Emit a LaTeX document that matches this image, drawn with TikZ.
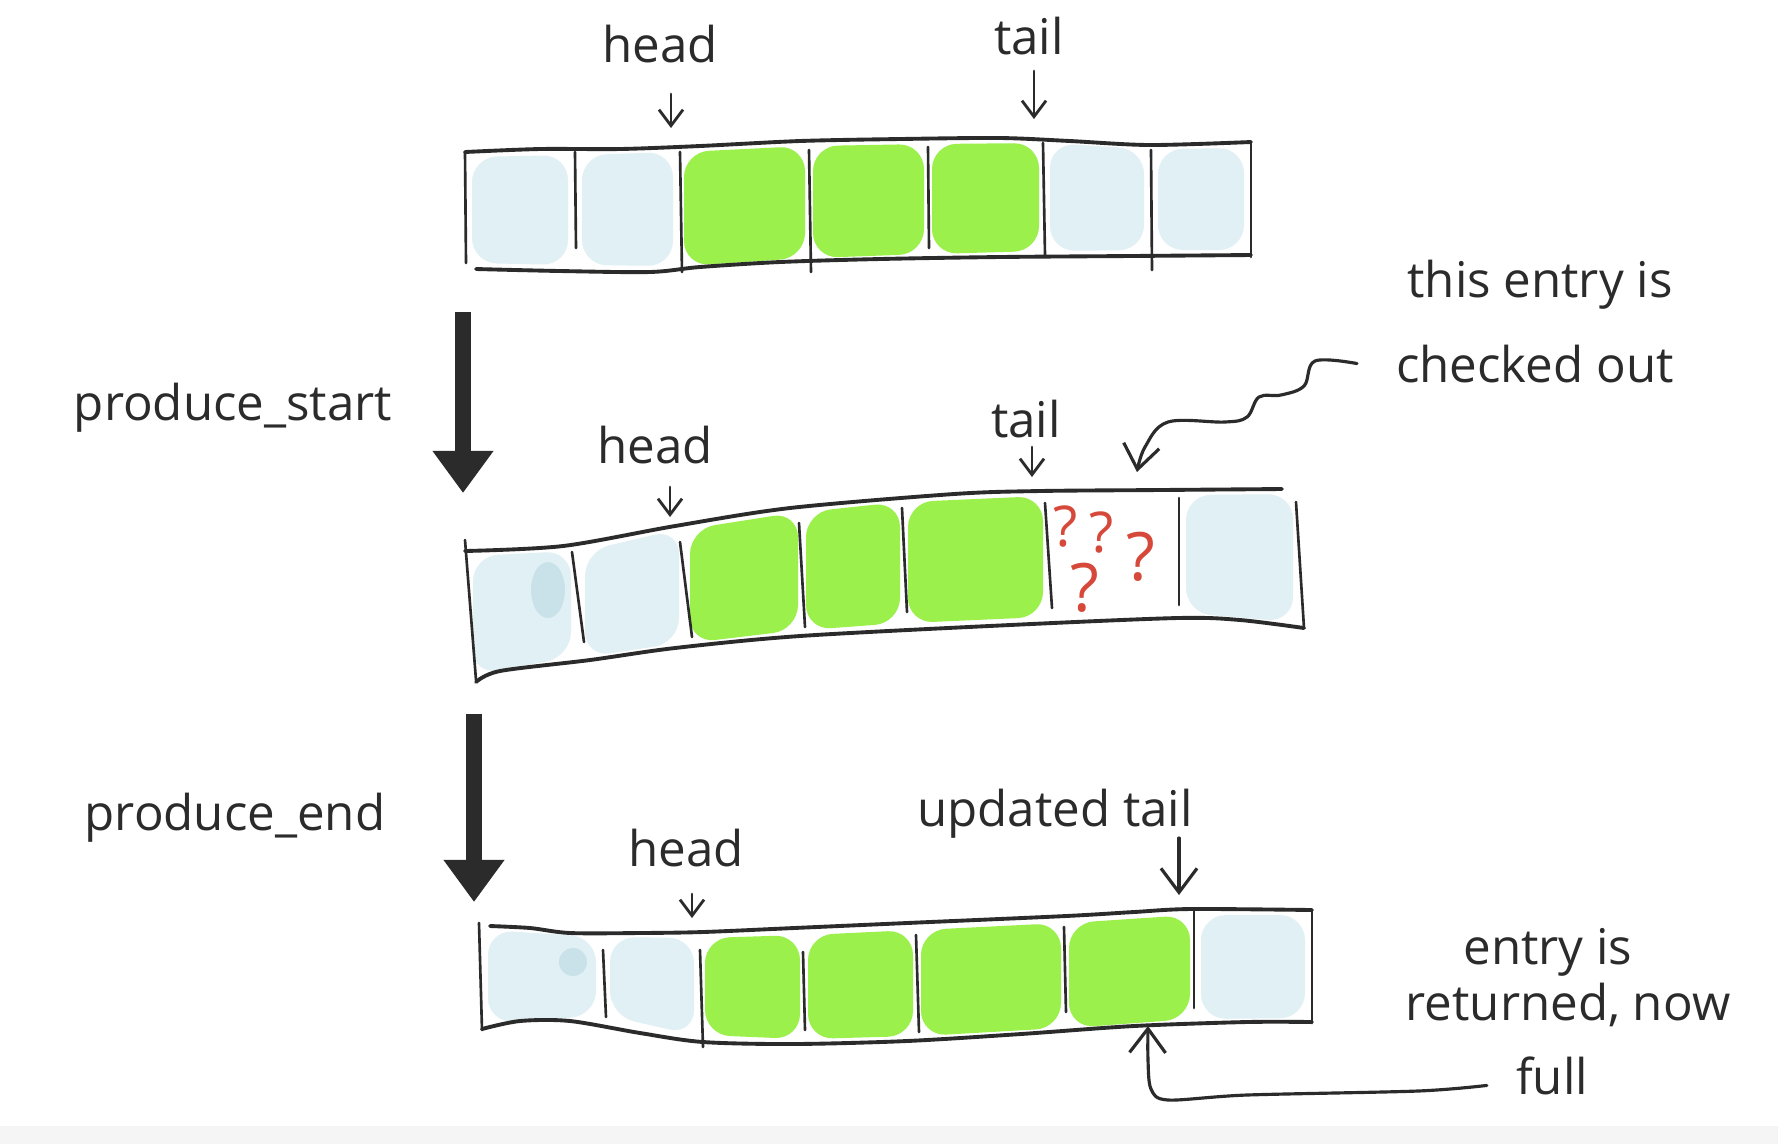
\documentclass[tikz,border=0pt]{standalone}
\usepackage{fontspec}
\setmainfont{Open Sans}
\usetikzlibrary{arrows.meta}

\definecolor{slotblue}{HTML}{E1F0F4}
\definecolor{slotdark}{HTML}{C9E2E9}
\definecolor{slotgreen}{HTML}{9CF04C}
\definecolor{inkgray}{HTML}{2B2B2B}
\definecolor{qred}{HTML}{D6483A}

\tikzset{
    ink/.style={draw=inkgray, line width=1.1pt, line cap=round, line join=round},
    sep/.style={draw=inkgray, line width=0.75pt, line cap=round},
    ptr/.style={draw=inkgray, line width=0.8pt, line cap=round, -{Straight Barb[length=1.6mm,width=2.4mm]}},
    ptrbig/.style={draw=inkgray, line width=0.9pt, line cap=round, -{Straight Barb[length=2.4mm,width=3.6mm]}},
    bigarr/.style={draw=inkgray, line width=4.6pt, -{Triangle[length=4.2mm,width=5.8mm]}},
    lbl/.style={font=\fontsize{14}{16}\selectfont, text=inkgray, anchor=base, inner sep=1pt},
    qm/.style={font=\fontsize{16}{18}\selectfont, text=qred, inner sep=0pt},
}

\begin{document}
\begin{tikzpicture}[x=0.01cm, y=-0.01cm]
    \useasboundingbox (0,0) rectangle (1778,1144);
    \fill[white] (0,0) rectangle (1778,1126);
    \fill[black!4] (0,1126) rectangle (1778,1144);

    % cell fills
    \foreach \xa/\ta/\ba/\xb/\tb/\bb/\col/\gap in {
        465/152/268/575/150/270/slotblue/7, 575/150/270/680/147/271/slotblue/7,
        680/147/271/809/141/263/slotgreen/4, 809/141/263/928/139/259/slotgreen/4,
        928/139/259/1043/138/256/slotgreen/4, 1043/138/256/1151/144/255/slotblue/7,
        1151/144/255/1251/143/255/slotblue/7,
        466/551/680/578/546/662/slotblue/7, 578/546/662/686/524/648/slotblue/7,
        686/524/648/802/507/635/slotgreen/4, 802/507/635/904/497/628/slotgreen/4,
        904/497/628/1047/491/622/slotgreen/4, 1047/491/622/1179/490/618/white/7,
        1179/490/618/1300/489/627/slotblue/7,
        481/925/1028/603/932/1021/slotblue/7, 603/932/1021/701/933/1040/slotblue/7,
        701/933/1040/804/930/1044/slotgreen/4, 804/930/1044/917/925/1041/slotgreen/4,
        917/925/1041/1065/918/1033/slotgreen/4, 1065/918/1033/1194/910/1024/slotgreen/4,
        1194/910/1024/1312/910/1023/slotblue/7} {
        \fill[\col, rounded corners=2.5mm] (\xa+\gap,\ta+5) -- (\xb-\gap,\tb+5) -- (\xb-\gap,\bb-5) -- (\xa+\gap,\ba-5) -- cycle;
    }
    \fill[slotdark] (548,590) ellipse (17 and 28);
    \fill[slotdark] (573,962) circle (14);

    % buffer outlines
    \draw[ink] plot[smooth] coordinates {(465,152) (540,149) (620,149) (700,146) (800,141) (900,139) (1000,138) (1070,141) (1150,145) (1251,142)};
    \draw[ink] plot[smooth] coordinates {(476,269) (560,271) (650,272) (700,267) (780,262) (880,259) (1000,257) (1130,256) (1251,255)};
    \draw[ink] plot[smooth] coordinates {(465,551) (563,546) (675,526) (790,508) (954,494) (1040,491) (1160,490) (1282,489)};
    \draw[ink] plot[smooth] coordinates {(476,682) (500,671) (590,660) (675,648) (800,636) (1010,625) (1178,618) (1240,620) (1304,628)};
    \draw[ink] plot[smooth] coordinates {(490,926) (530,928) (570,933) (640,933) (703,932) (794,928) (907,923) (1066,916) (1134,912) (1191,909) (1312,910)};
    \draw[ink] plot[smooth] coordinates {(482,1029) (520,1021) (570,1021) (640,1033) (703,1042) (794,1044) (907,1041) (1021,1034) (1134,1026) (1247,1022) (1312,1022)};

    \foreach \xa/\ya/\xb/\yb in {
        465/152/466/263, 575/152/576/248, 680/152/682/272, 809/150/811/272,
        928/147/929/248, 1043/143/1045/255, 1151/150/1152/270, 1251/142/1251/257,
        465/540/476/680, 572/552/584/642, 680/542/692/637, 799/523/805/627,
        902/508/907/612, 1045/503/1052/608, 1179/498/1179/605, 1296/502/1304/628,
        479/923/482/1030, 603/950/606/1017, 700/950/703/1047, 803/952/805/1030,
        916/935/919/1032, 1064/927/1066/1012, 1194/910/1194/1008, 1312/910/1312/1023} {
        \draw[sep] (\xa,\ya) -- (\xb,\yb);
    }

    % labels
    \node[lbl] (hdA) at (660,62) {head};
    \node[lbl] (tlA) at (1029,54) {tail};
    \node[lbl] (hdB) at (655,463) {head};
    \node[lbl] (tlB) at (1026,437) {tail};
    \node[lbl] (hdC) at (686,866) {head};
    \node[lbl] (tlC) at (1055,826) {updated tail};
    \node[lbl] (chkA) at (1540,297) {this entry is};
    \node[lbl] (chkB) at (1535,382) {checked out};
    \node[lbl] (opA) at (233,420) {produce\_start};
    \node[lbl] (opB) at (235,830) {produce\_end};
    \node[lbl] (retA) at (1548,964) {entry is};
    \node[lbl] (retB) at (1568,1020) {returned, now};
    \node[lbl] (retC) at (1552,1094) {full};

    \node[qm] (qA) at (1066,527) {?};
    \node[qm] (qB) at (1102,533) {?};
    \node[qm, font=\fontsize{19}{21}\selectfont] (qC) at (1141,557) {?};
    \node[qm, font=\fontsize{19}{21}\selectfont] (qD) at (1085,588) {?};

    % pointers
    \coordinate (hA) at (671,128);
    \coordinate (tA) at (1034,119);
    \coordinate (hB) at (670,517);
    \coordinate (tB) at (1032,477);
    \coordinate (hC) at (692,918);
    \coordinate (tC) at (1179,895);
    \draw[ptr, shorten <=3.2mm] (hdA.base -| hA) -- (hA);
    \draw[ptr, shorten <=1.7mm] (tlA.base -| tA) -- (tA);
    \draw[ptr, shorten <=2.4mm] (hdB.base -| hB) -- (hB);
    \draw[ptr, shorten <=1.0mm] (tlB.base -| tB) -- (tB);
    \draw[ptr, shorten <=2.8mm] (hdC.base -| hC) -- (hC);
    \draw[ptrbig, shorten <=1.2mm] (tlC.base -| tC) -- (tC);

    \coordinate (chkTip) at (1137,472);
    \draw[ptrbig] plot[smooth, tension=0.6] coordinates {([xshift=-3.5mm]chkB.west) (1315,361) (1304,386) (1281,395) (1259,397) (1247,417) (1225,422) (1168,422) (1145,447) (chkTip)};
    \coordinate (retTip) at (1148,1026);
    \draw[ptrbig] plot[smooth, tension=0.5] coordinates {([xshift=-2.5mm,yshift=-1mm]retC.west) (1418,1091) (1247,1095) (1168,1100) (1151,1089) (1148,1060) (retTip)};

    % operations
    \coordinate (stA) at (463,312);
    \coordinate (stB) at (463,493);
    \coordinate (enA) at (474,714);
    \coordinate (enB) at (474,902);
    \draw[bigarr] (stA) -- (stB);
    \draw[bigarr] (enA) -- (enB);
\end{tikzpicture}
\end{document}
